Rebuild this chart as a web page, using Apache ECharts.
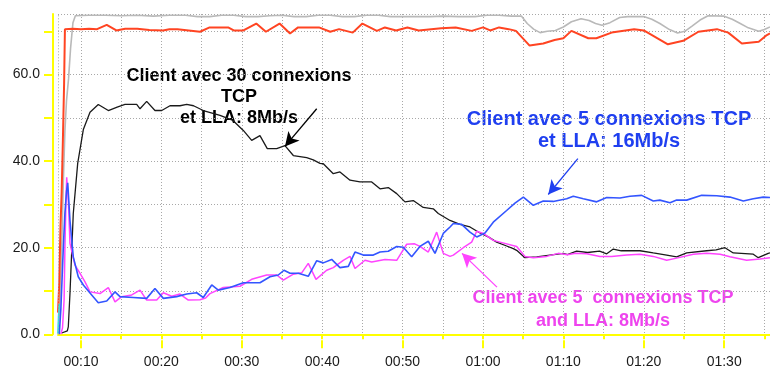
<!DOCTYPE html>
<html>
<head>
<meta charset="utf-8">
<script src="https://cdn.jsdelivr.net/npm/echarts@6/dist/echarts.min.js"></script>
<style>
  html, body { margin: 0; padding: 0; background: #ffffff; }
  #chart { width: 770px; height: 372px; }
</style>
</head>
<body>
<div id="chart"></div>
<script>
// Time axis range (seconds) and throughput axis range (Mb/s)
const timeStart = 7.14;
const timeEnd = 95.7;
const rateMax = 74;

// Tick positions
const xLabelSeconds = [10, 20, 30, 40, 50, 60, 70, 80, 90];
const xTickSeconds = [10, 15, 20, 25, 30, 35, 40, 45, 50, 55, 60, 65, 70, 75, 80, 85, 90, 95];
const yLabelValues = [0, 20, 40, 60];

// Series samples: [time in seconds, throughput]
const grayLine = [
  [7.14,0],[7.4,8],[7.6,20],[7.8,35],[8.0,47],[8.2,54],[8.45,59],[8.7,66],[9.0,72],[9.3,73.6],
  [11,73.7],[13,73.7],[15,73.6],[17,73.7],[19,73.5],[21,73.7],[23,73.7],[24.5,73.4],[26,73.4],
  [27.5,73.7],[29,73.7],[30.5,73.4],[32,73.4],[33.5,73.6],[35,73.7],[36.5,73.4],[38,73.4],
  [39.5,73.7],[41,73.7],[42.5,73.4],[44,73.4],[45.5,73.7],[47,73.7],[48.5,73.4],[50.5,73.4],
  [52,73.4],[53.5,73.4],[55,73.5],[57,73.4],[59,73.4],[60.5,73.7],[62,73.7],[63.5,73.5],
  [64.8,73.5],[65.5,71.8],[66.3,70.5],[67.1,69.7],[68,70.0],[69,70.2],[70,71.0],[71,72.2],
  [72.2,72.9],[73.2,72.5],[74,71.8],[74.8,71.4],[75.8,72.0],[77,73.2],[78,73.4],[80,73.4],
  [81,72.8],[82,71.8],[83.2,70.4],[84.2,69.6],[85.1,70.0],[86,71.2],[87,72.6],[88,73.6],
  [90,73.5],[91,72.8],[92,71.8],[93,70.8],[94.3,70.0],[95,70.4],[95.7,71.0]
];

const redLine = [
  [7.14,5],[7.3,12],[7.45,25],[7.6,33],[7.75,45],[7.9,58],[8.0,70.5],[9,70.6],[10,70.5],
  [11,70.6],[12,70.5],[13.2,71.5],[14.4,70.2],[15.5,70.6],[17,70.6],[18.5,70.3],[20.2,70.2],
  [21,70.5],[22,70.5],[24.8,69.9],[26,70.9],[28.3,70.9],[29,70.2],[30.2,70.2],[31.8,71.8],
  [33,69.9],[34.7,71.8],[36,69.5],[37,70.9],[39.6,70.9],[41,69.9],[42.1,70.5],[43.8,69.7],
  [45,71.8],[46.8,70.1],[47.8,70.9],[49.2,70.2],[50.6,70.9],[52,70.2],[54.8,70.7],[56.6,70.9],
  [58.6,70.1],[60,70.9],[60.9,70.2],[62,70.9],[63.2,70.5],[64.1,70.1],[65.8,66.7],[67.5,67.2],
  [68.9,68.0],[70,68.4],[71,70.1],[73.1,68.4],[74.1,68.4],[76,69.7],[78.8,70.5],[80,70.2],
  [83,67.0],[84.9,67.8],[86.8,69.9],[89.1,70.5],[90.5,69.7],[92.2,67.2],[94.3,67.6],
  [95.2,69.0],[95.7,69.5]
];

// Client with 30 TCP connections, LLA 8Mb/s
const blackLine = [
  [7.6,0.3],[8.3,0.8],[8.42,1.7],[8.63,9.5],[9.04,27.9],[9.59,39.5],[10.29,47.3],[11.12,51.3],
  [12.15,53.1],[13.4,51.7],[14.5,52.5],[15.47,53.1],[16.93,53.1],[17.34,52.1],[18.17,53.8],
  [19.2,51.7],[20.04,51.7],[21.07,52.8],[22.31,52.8],[23.15,53.1],[24,52.8],[25.21,51.7],
  [27.29,50.6],[28.9,49.4],[30.19,47.1],[31.23,44.8],[32.26,45.9],[33.17,42.9],[34.34,42.9],
  [35.37,43.6],[36.41,41.3],[38.07,40.8],[38.89,40.3],[39.73,39.5],[40.14,39.4],[41.38,37.1],
  [42.21,37.5],[43.46,35.6],[44.7,35.2],[46.16,35.2],[47.19,33.6],[48.22,33.9],[49.27,32.5],
  [50.3,30.6],[51.33,30.9],[52.57,29.3],[53.82,29.0],[54.44,27.9],[55.9,26.3],[57.14,25.4],
  [58.38,24.8],[59.63,23.4],[60.66,22.5],[61.7,21.3],[62.94,20.4],[63.77,19.8],[64.19,19.4],
  [65.22,17.7],[66.68,17.9],[68.33,18.3],[69.99,18.7],[70.5,18.4],[71.65,19.2],[73,18.9],
  [74.5,19.2],[75.39,18.6],[76.21,19.7],[77.2,19.3],[79.53,19.3],[81.18,18.8],[82.85,18.3],
  [84.09,17.9],[85.34,18.8],[87.82,19.3],[89,19.5],[90.1,20.0],[91.13,18.8],[93.62,18.5],
  [94.24,17.7],[95.48,18.7],[95.7,18.8]
];

// Client with 5 TCP connections, LLA 16Mb/s
const blueLine = [
  [7.3,0],[7.5,6],[7.8,20],[8.0,28],[8.2,33],[8.35,35],[8.63,26.3],[9.04,17.9],[9.66,13.3],
  [10.29,11.4],[11.33,9.1],[12.15,7.3],[13.2,7.7],[14.23,9.8],[14.85,8.7],[16.5,8.5],
  [18.17,8.3],[19.2,10.6],[20.24,8.3],[21.9,8.7],[23.15,9.3],[24.39,9.6],[25.21,8.5],
  [26.26,11.4],[27.08,10.2],[28.53,10.8],[30.19,11.9],[32.26,11.9],[33.51,13.3],[34.54,13.7],
  [35.25,14.8],[36.0,14.1],[37.03,14.1],[38.27,13.4],[39.32,17.0],[40.14,16.5],[41.18,17.3],
  [42.21,15.4],[43.25,15.7],[44.08,19.0],[45.11,18.3],[46.36,18.3],[47.19,19.0],[48.22,19.2],
  [49.27,20.3],[50.09,20.1],[51.13,17.9],[52.16,20.3],[53.2,21.5],[54.03,18.7],[55.06,23.3],
  [55.9,24.8],[56.31,25.6],[57.35,25.4],[58.38,23.6],[59.22,22.5],[60.25,23.4],[61.28,25.9],
  [62.94,28.6],[63.98,30.3],[65.02,31.7],[66.26,29.8],[67.5,30.8],[68.74,30.7],[70.41,31.3],
  [71.23,31.9],[72.48,31.3],[74.14,30.6],[75.39,31.6],[77.04,31.5],[78.28,31.9],[79.74,32.1],
  [81.18,30.8],[82,31.0],[83.26,30.4],[84.09,31.0],[85.34,31.0],[87.2,32.1],[89.07,32.0],
  [90.72,31.7],[92.38,30.8],[93.62,31.3],[94.86,31.7],[95.7,31.6]
];

// Client with 5 TCP connections, LLA 8Mb/s
const magentaLine = [
  [7.5,0],[7.7,1.5],[7.9,8],[8.0,20],[8.15,32],[8.22,36.3],[8.45,30],[8.63,21],[8.84,21],
  [9.25,16],[9.88,14.1],[10.5,12.1],[11.12,9.8],[12.36,9.4],[13.4,10.8],[14.23,7.5],
  [15.06,8.7],[16.31,9.1],[17.34,10.2],[18.17,7.9],[19.42,7.9],[20.24,9.6],[21.28,8.8],
  [22.31,9.3],[23.35,7.9],[24.8,8.0],[25.5,8.4],[26.04,9.4],[27.7,10.8],[29.78,11.1],
  [31.23,12.7],[33.1,13.7],[34.34,13.7],[35.16,12.5],[36.41,13.9],[37.45,14.2],[38.27,16.4],
  [39.23,12.7],[40.56,14.8],[41.38,15.4],[42.62,17.1],[43.46,18.0],[44.08,15.2],[45.32,17.1],
  [46.16,16.7],[47.81,17.3],[49.27,17.1],[50.51,20.8],[51.5,20.9],[52.16,20.3],[53.2,19.0],
  [54.24,23.6],[55.06,18.7],[55.9,18.0],[56.31,18.3],[57.55,20.0],[58.59,21.3],[59.22,23.8],
  [60.04,23.3],[61.28,21.7],[62.11,21.3],[64.19,20.3],[65.22,18.0],[66.26,17.7],[67.92,18.0],
  [69.37,18.7],[70.5,18.4],[71.5,18.7],[72.9,18.6],[74.55,18.0],[76,18.0],[77.87,18.3],
  [79.53,18.5],[81.18,18.0],[82.85,17.1],[84.09,17.6],[86.16,18.5],[87.82,18.7],[89.5,18.5],
  [90.72,17.9],[92.79,17.1],[94.45,17.4],[95.7,17.7]
];

const cyanLine = [[7.14,0.2],[7.2,4],[7.3,7]];

// Annotation arrows: [tail, head] in data coordinates
const blackArrow = [[39.32,52.1],[35.37,43.4]];
const blueArrow = [[71.8,40.6],[68.12,32.3]];
const magentaArrow = [[61.74,10.9],[57.39,18.7]];

const AXIS_YELLOW = '#ffff00';
const GRID_GRAY = '#a8a8a8';
const FONT = '"Liberation Sans", Arial, sans-serif';

function mmss(v) {
  const m = Math.floor(v / 60);
  const s = Math.round(v - m * 60);
  return String(m).padStart(2, '0') + ':' + String(s).padStart(2, '0');
}

function arrowMark(pts, color) {
  return {
    silent: true,
    symbol: ['none', 'arrow'],
    symbolSize: [11, 14],
    label: { show: false },
    lineStyle: { color: color, width: 1.3, type: 'solid' },
    emphasis: { disabled: true },
    data: [[{ coord: pts[0] }, { coord: pts[1] }]]
  };
}

// dotted vertical boundary at the start of the time range
const leftEdgeMark = {
  silent: true,
  symbol: ['none', 'none'],
  label: { show: false },
  lineStyle: { color: GRID_GRAY, width: 1, type: [1, 2] },
  emphasis: { disabled: true },
  data: [{ xAxis: timeStart }]
};

function lineSeries(name, data, color, width, extra) {
  return Object.assign({
    name: name,
    type: 'line',
    data: data,
    showSymbol: false,
    symbol: 'none',
    animation: false,
    lineStyle: { color: color, width: width },
    itemStyle: { color: color },
    emphasis: { disabled: true }
  }, extra || {});
}

const chart = echarts.init(document.getElementById('chart'), null, { renderer: 'canvas' });

chart.setOption({
  animation: false,
  backgroundColor: '#ffffff',
  grid: { left: 58, right: 0, top: 14, bottom: 37.7, containLabel: false },
  xAxis: [
    {
      type: 'value',
      min: timeStart,
      max: timeEnd,
      offset: 6,
      axisLine: { show: true, lineStyle: { color: AXIS_YELLOW, width: 2 } },
      axisTick: { show: true, customValues: xTickSeconds, length: 5, lineStyle: { color: AXIS_YELLOW, width: 2 } },
      axisLabel: {
        customValues: xLabelSeconds,
        margin: 15,
        color: '#1a1a1a',
        fontFamily: FONT,
        fontSize: 14,
        formatter: mmss
      },
      splitLine: { show: true, lineStyle: { color: GRID_GRAY, width: 1, type: [1, 2] } }
    },
    {
      type: 'value',
      min: timeStart,
      max: timeEnd,
      offset: 6,
      position: 'bottom',
      axisLine: { show: false },
      axisTick: { show: true, customValues: xLabelSeconds, length: 8, lineStyle: { color: AXIS_YELLOW, width: 2 } },
      axisLabel: { show: false },
      splitLine: { show: false }
    }
  ],
  yAxis: {
    type: 'value',
    min: 0,
    max: rateMax,
    interval: 10,
    offset: 5,
    axisLine: { show: true, lineStyle: { color: AXIS_YELLOW, width: 2 } },
    axisTick: { show: true, length: 9, lineStyle: { color: AXIS_YELLOW, width: 2 } },
    axisLabel: {
      margin: 13,
      color: '#1a1a1a',
      fontFamily: FONT,
      fontSize: 14,
      showMaxLabel: false,
      formatter: function (v) { return yLabelValues.indexOf(v) >= 0 ? v.toFixed(1) : ''; }
    },
    splitLine: { show: true, lineStyle: { color: GRID_GRAY, width: 1, type: [1, 2] } }
  },
  series: [
    lineSeries('gray', grayLine, '#b9b9b9', 1.6, { markLine: leftEdgeMark }),
    lineSeries('red', redLine, '#ff4422', 2),
    lineSeries('cyan', cyanLine, '#22e6e6', 1.5),
    lineSeries('black', blackLine, '#1a1a1a', 1.3, { markLine: arrowMark(blackArrow, '#000000') }),
    lineSeries('magenta', magentaLine, '#ff44ff', 1.5, { markLine: arrowMark(magentaArrow, '#ff44ff') }),
    lineSeries('blue', blueLine, '#3355ff', 1.6, { markLine: arrowMark(blueArrow, '#1f3ff0') })
  ],
  graphic: [
    {
      type: 'text', x: 239, y: 66, silent: true,
      style: {
        text: 'Client avec 30 connexions\nTCP\net LLA: 8Mb/s',
        font: 'bold 18px ' + FONT, fill: '#000000',
        align: 'center', verticalAlign: 'top', lineHeight: 21
      }
    },
    {
      type: 'text', x: 609, y: 108.5, silent: true,
      style: {
        text: 'Client avec 5 connexions TCP\net LLA: 16Mb/s',
        font: 'bold 20px ' + FONT, fill: '#1f3ff0',
        align: 'center', verticalAlign: 'top', lineHeight: 22
      }
    },
    {
      type: 'text', x: 603, y: 287, silent: true,
      style: {
        text: 'Client avec 5  connexions TCP\nand LLA: 8Mb/s',
        font: 'bold 18px ' + FONT, fill: '#ee44ee',
        align: 'center', verticalAlign: 'top', lineHeight: 23
      }
    }
  ]
});
</script>
</body>
</html>
